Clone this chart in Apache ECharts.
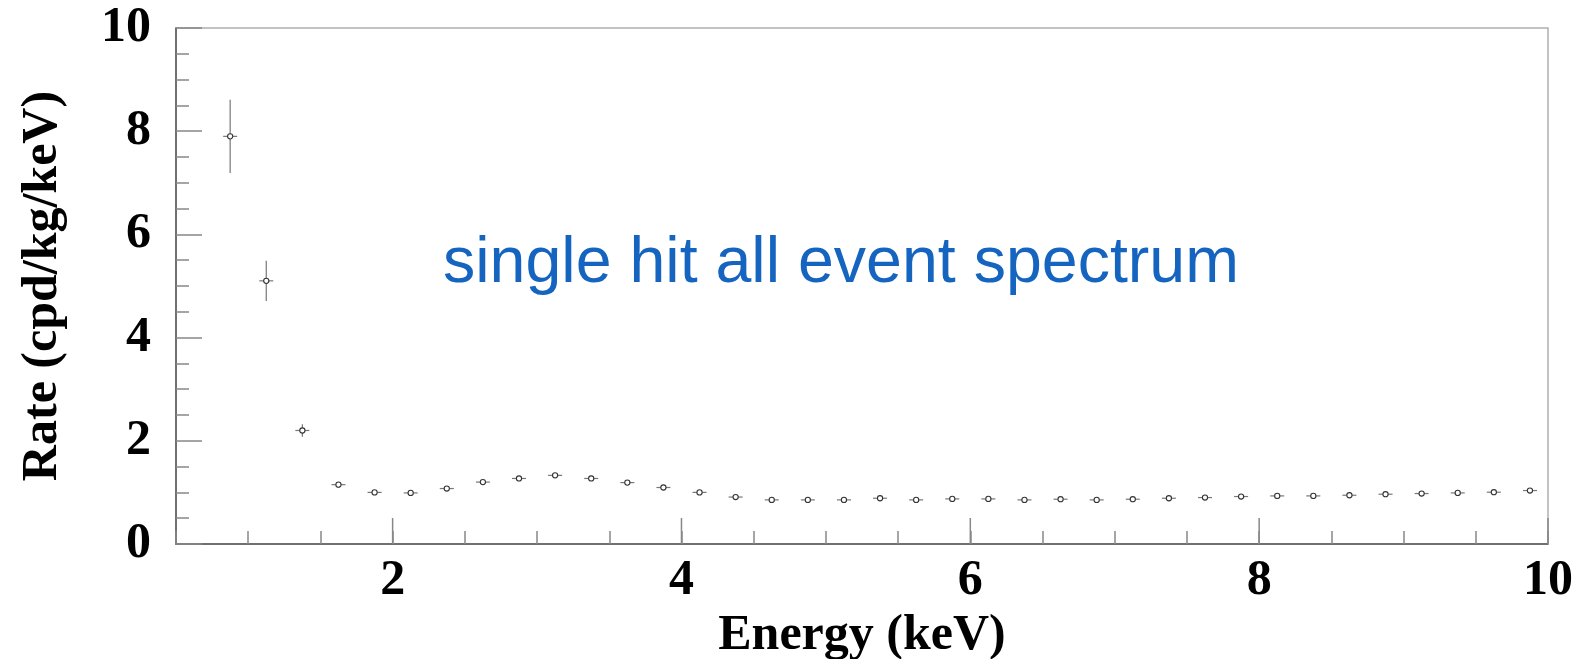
<!DOCTYPE html>
<html>
<head>
<meta charset="utf-8">
<script src="https://cdn.jsdelivr.net/npm/echarts@6/dist/echarts.min.js"></script>
<style>
html,body{margin:0;padding:0;background:#fff;}
#chart{width:1580px;height:659px;}
</style>
</head>
<body>
<div id="chart"></div>
<script>
// ---- data ----
var energy = [0.875, 1.125, 1.375, 1.625, 1.875, 2.125, 2.375, 2.625, 2.875, 3.125,
              3.375, 3.625, 3.875, 4.125, 4.375, 4.625, 4.875, 5.125, 5.375, 5.625,
              5.875, 6.125, 6.375, 6.625, 6.875, 7.125, 7.375, 7.625, 7.875, 8.125,
              8.375, 8.625, 8.875, 9.125, 9.375, 9.625, 9.875];
var rate = [7.90, 5.10, 2.20, 1.15, 1.00, 0.99, 1.075, 1.20, 1.27, 1.33,
            1.27, 1.19, 1.095, 1.00, 0.91, 0.855, 0.855, 0.855, 0.887, 0.855,
            0.874, 0.874, 0.855, 0.868, 0.855, 0.868, 0.887, 0.90, 0.92, 0.932,
            0.932, 0.945, 0.965, 0.978, 0.99, 1.004, 1.036];
var rateErr = [0.71, 0.39, 0.12, 0.05, 0.04, 0.04, 0.04, 0.04, 0.04, 0.04,
               0.04, 0.04, 0.04, 0.04, 0.03, 0.03, 0.03, 0.03, 0.03, 0.03,
               0.03, 0.03, 0.03, 0.03, 0.03, 0.03, 0.03, 0.03, 0.03, 0.03,
               0.03, 0.03, 0.03, 0.03, 0.03, 0.03, 0.03];
var xMajorTicks = [2, 4, 6, 8, 10];
var xAxisName = 'Energy (keV)';
var yAxisName = 'Rate (cpd/kg/keV)';
var annotation = 'single hit all event spectrum';

var pts = energy.map(function (e, i) { return [e, rate[i], rateErr[i]]; });
var tickData = xMajorTicks.map(function (v) { return [v, 0]; });

var serif = '"Liberation Serif", "Times New Roman", serif';
var chart = echarts.init(document.getElementById('chart'));
chart.setOption({
  animation: false,
  backgroundColor: '#ffffff',
  grid: { left: 176, right: 32, top: 28, bottom: 115, containLabel: false, outerBoundsMode: 'none',
          show: true, borderColor: '#b0b0b0', borderWidth: 1.5, backgroundColor: 'transparent' },
  xAxis: {
    type: 'value', min: 0.5, max: 10, interval: 0.5,
    name: xAxisName, nameLocation: 'middle', nameGap: 58,
    nameTextStyle: { fontFamily: serif, fontWeight: 'bold', fontSize: 50, color: '#000' },
    axisLine: { show: true, lineStyle: { color: '#555', width: 1.5 } },
    axisTick: { show: true, inside: true, length: 13, lineStyle: { color: '#888', width: 1.5 } },
    axisLabel: {
      margin: 12, fontFamily: serif, fontWeight: 'bold', fontSize: 50, color: '#000',
      formatter: function (v) { return (v % 2 === 0) ? String(v) : ''; }
    },
    splitLine: { show: false }
  },
  yAxis: {
    type: 'value', min: 0, max: 10, interval: 2,
    name: yAxisName, nameLocation: 'middle', nameGap: 108,
    nameTextStyle: { fontFamily: serif, fontWeight: 'bold', fontSize: 50, color: '#000' },
    axisLine: { show: true, lineStyle: { color: '#555', width: 1.5 } },
    axisTick: { show: true, inside: true, length: 26, lineStyle: { color: '#888', width: 1.5 } },
    minorTick: { show: true, splitNumber: 4, length: 13, lineStyle: { color: '#888', width: 1.5 } },
    axisLabel: { margin: 25, fontFamily: serif, fontWeight: 'bold', fontSize: 50, color: '#000' },
    splitLine: { show: false },
    minorSplitLine: { show: false }
  },
  graphic: [{
    type: 'text', left: 443, top: 232, z: 10,
    style: { text: annotation, fontFamily: '"Liberation Sans", Arial, Helvetica, sans-serif', fontSize: 64.5, fill: '#1565C0' }
  }],
  series: [
    {
      type: 'custom', name: 'majorTicks', data: tickData, silent: true, clip: false,
      renderItem: function (params, api) {
        var p = api.coord([api.value(0), api.value(1)]);
        return { type: 'line', shape: { x1: p[0], y1: p[1], x2: p[0], y2: p[1] - 26 },
                 style: { stroke: '#888', lineWidth: 1.5 } };
      }
    },
    {
      type: 'custom', name: 'rate', data: pts, clip: false,
      renderItem: function (params, api) {
        var x = api.value(0), y = api.value(1), e = api.value(2);
        var c = api.coord([x, y]);
        var top = api.coord([x, y + e]);
        var bot = api.coord([x, y - e]);
        return {
          type: 'group',
          children: [
            { type: 'line', shape: { x1: c[0], y1: top[1], x2: c[0], y2: bot[1] }, style: { stroke: '#777', lineWidth: 1.2 } },
            { type: 'line', shape: { x1: c[0] - 7, y1: c[1], x2: c[0] + 7, y2: c[1] }, style: { stroke: '#777', lineWidth: 1.2 } },
            { type: 'circle', shape: { cx: c[0], cy: c[1], r: 2.6 }, style: { fill: '#fff', stroke: '#333', lineWidth: 1.1 } }
          ]
        };
      }
    }
  ]
});
</script>
</body>
</html>
